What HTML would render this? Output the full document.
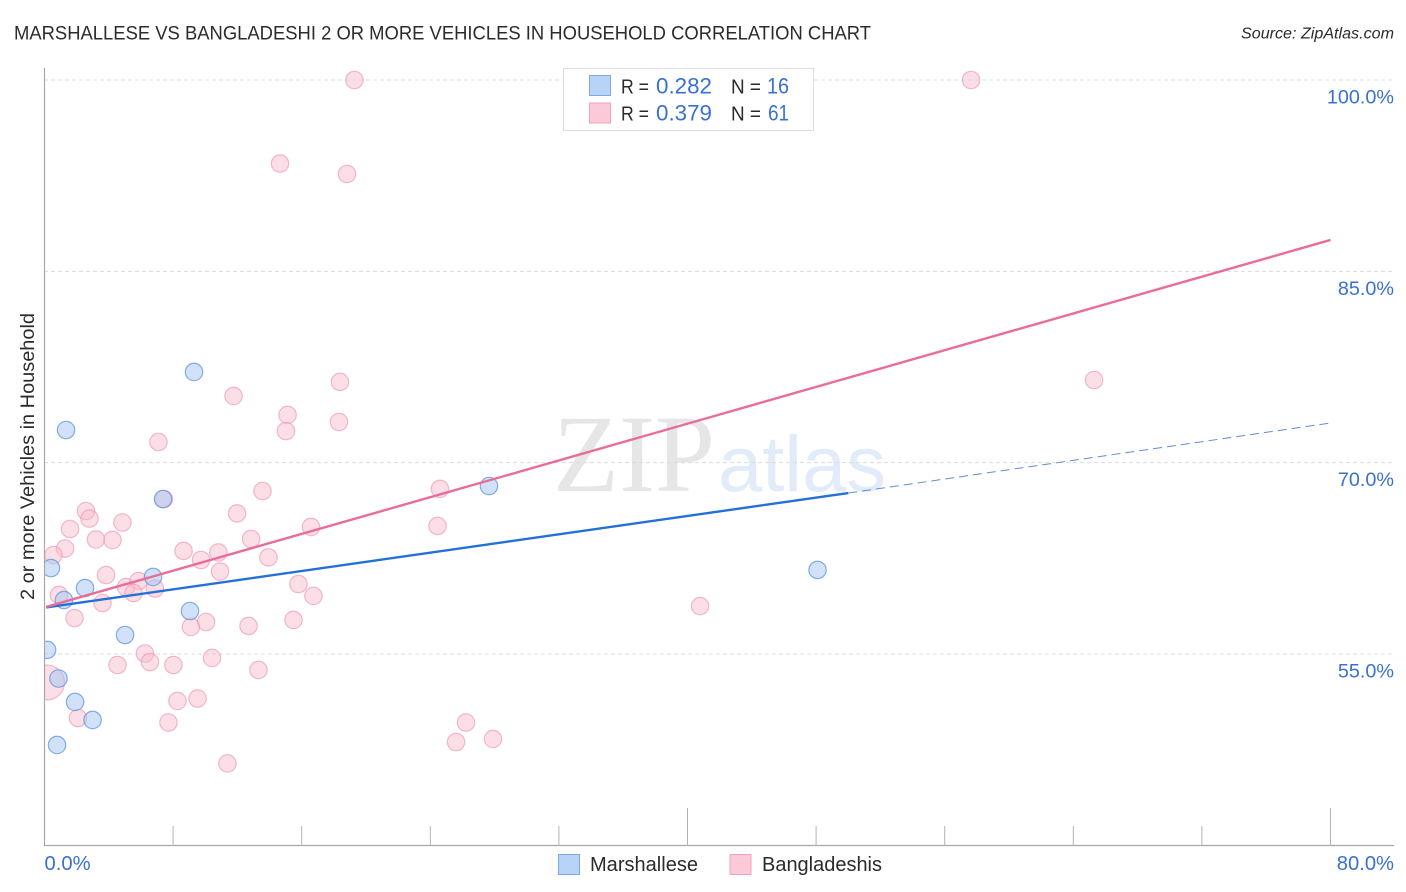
<!DOCTYPE html>
<html lang="en">
<head>
<meta charset="utf-8">
<title>Marshallese vs Bangladeshi 2 or more Vehicles in Household Correlation Chart</title>
<style>
html,body{margin:0;padding:0;background:#fff;}
svg{display:block;font-family:"Liberation Sans",sans-serif;}
</style>
</head>
<body>
<svg id="chart" xmlns="http://www.w3.org/2000/svg" width="1406" height="892" viewBox="0 0 1406 892">
  <rect x="0" y="0" width="1406" height="892" fill="#ffffff"/>
  <text x="14" y="39.5" font-size="19" fill="#2b2b2b" textLength="857" lengthAdjust="spacingAndGlyphs">MARSHALLESE VS BANGLADESHI 2 OR MORE VEHICLES IN HOUSEHOLD CORRELATION CHART</text>
  <text x="1241" y="38.5" font-size="15.5" font-style="italic" fill="#2b2b2b" textLength="153" lengthAdjust="spacingAndGlyphs">Source: ZipAtlas.com</text>
  <text x="553" y="491" font-family="'Liberation Serif',serif" font-size="110" fill="#e6e6e6" textLength="162" lengthAdjust="spacingAndGlyphs">ZIP</text>
  <text x="718" y="491" font-size="79" fill="#e2ebf9" textLength="168" lengthAdjust="spacingAndGlyphs">atlas</text>
  <g id="grid"></g>
  <g id="pink-points"></g>
  <g id="blue-points"></g>
  <g id="trends"></g>
  <g id="axes"></g>
  <text transform="translate(34,600) rotate(-90)" x="0" y="0" font-size="19" fill="#2b2b2b" textLength="287" lengthAdjust="spacingAndGlyphs">2 or more Vehicles in Household</text>
  <g>
    <rect x="563.5" y="68.5" width="250" height="62" fill="#ffffff" fill-opacity="0.9" stroke="#dddddd" stroke-width="1"/>
    <rect x="589.5" y="75.5" width="21" height="20" fill="#b7d4f8" stroke="#7faadf" stroke-width="1"/>
    <rect x="589.5" y="103" width="21" height="20" fill="#fcc9d9" stroke="#f0a3bb" stroke-width="1"/>
    <text x="621" y="93.5" font-size="20" fill="#2b2b2b" textLength="28" lengthAdjust="spacingAndGlyphs">R =</text>
    <text x="656" y="93.5" font-size="22" fill="#3a71d0" textLength="56" lengthAdjust="spacingAndGlyphs">0.282</text>
    <text x="731" y="93.5" font-size="20" fill="#2b2b2b" textLength="30" lengthAdjust="spacingAndGlyphs">N =</text>
    <text x="767" y="93.5" font-size="22" fill="#3a71d0" textLength="22" lengthAdjust="spacingAndGlyphs">16</text>
    <text x="621" y="120.5" font-size="20" fill="#2b2b2b" textLength="28" lengthAdjust="spacingAndGlyphs">R =</text>
    <text x="656" y="120.5" font-size="22" fill="#3a71d0" textLength="56" lengthAdjust="spacingAndGlyphs">0.379</text>
    <text x="731" y="120.5" font-size="20" fill="#2b2b2b" textLength="30" lengthAdjust="spacingAndGlyphs">N =</text>
    <text x="768" y="120.5" font-size="22" fill="#3a71d0" textLength="21" lengthAdjust="spacingAndGlyphs">61</text>
  </g>
  <g>
    <rect x="558.5" y="854.5" width="21" height="20" fill="#b7d4f8" stroke="#7faadf" stroke-width="1"/>
    <text x="590" y="871" font-size="20" fill="#2b2b2b" textLength="108" lengthAdjust="spacingAndGlyphs">Marshallese</text>
    <rect x="730" y="854.5" width="21" height="20" fill="#fcc9d9" stroke="#f0a3bb" stroke-width="1"/>
    <text x="762" y="871" font-size="20" fill="#2b2b2b" textLength="120" lengthAdjust="spacingAndGlyphs">Bangladeshis</text>
  </g>
</svg>
<script>
// Series values: [x %, y %]
const marshalleseX = [0.16,0.40,1.21,2.52,0.87,1.90,2.99,0.78,5.01,6.75,7.37,9.05,9.30,1.34,27.65,48.09];
const marshalleseY = [55.32,61.74,59.23,60.17,53.08,51.24,49.83,47.87,56.49,61.04,67.15,58.37,77.11,72.56,68.17,61.59];
const bangladeshisX = [19.28,57.64,14.65,18.82,65.29,18.38,11.76,15.12,15.02,18.32,7.09,13.56,7.43,24.60,24.45,2.58,2.80,1.59,4.85,3.20,4.23,1.28,0.56,11.98,16.58,8.65,9.74,10.82,12.85,13.93,10.92,3.83,5.07,5.85,5.54,6.87,0.90,3.61,1.87,15.80,16.73,15.49,12.69,10.05,9.11,10.42,6.25,6.56,4.54,8.02,13.31,9.52,8.27,2.08,7.71,11.38,26.22,27.90,25.60,40.78,0.16];
const bangladeshisY = [100,100,93.45,92.63,76.48,76.33,75.23,73.74,72.48,73.19,71.62,67.78,67.15,67.94,65.04,66.21,65.62,64.80,65.31,63.98,63.94,63.27,62.76,66.02,64.96,63.08,62.37,62.96,64.02,62.57,61.47,61.19,60.25,60.72,59.78,60.13,59.63,59.00,57.82,60.49,59.55,57.67,57.20,57.51,57.12,54.69,55.04,54.37,54.14,54.14,53.75,51.51,51.32,49.98,49.63,46.42,49.63,48.34,48.10,58.76,52.77];
// Weight of each point (relative area multiplier; only the large left-edge point differs)
const bangladeshisWeight = [1,1,1,1,1,1,1,1,1,1,1,1,1,1,1,1,1,1,1,1,1,1,1,1,1,1,1,1,1,1,1,1,1,1,1,1,1,1,1,1,1,1,1,1,1,1,1,1,1,1,1,1,1,1,1,1,1,1,1,1,4];
// Trend lines: [start, end] values
const pinkTrendX = [0.1,80];
const pinkTrendY = [58.69,87.46];
const blueTrendX = [0.1,50];
const blueTrendY = [58.65,67.62];
const blueDashX = [50,80];
const blueDashY = [67.62,73.11];
// Axis ticks
const yTickValues = [100,85,70,55];
const yTickLabels = ["100.0%","85.0%","70.0%","55.0%"];
const xTickValues = [0,8,16,24,32,40,48,56,64,72,80];
const xEndValues = [0,80];
const xEndLabels = ["0.0%","80.0%"];

const NS = "http://www.w3.org/2000/svg";
const xScale = v => 44.5 + v * 16.075;
const yScale = v => 80 + (100 - v) * 12.756;
const grid = document.getElementById("grid");
const axes = document.getElementById("axes");
const trends = document.getElementById("trends");

function mk(tag, parent, attrs) {
  const el = document.createElementNS(NS, tag);
  for (const k in attrs) el.setAttribute(k, attrs[k]);
  parent.appendChild(el);
  return el;
}

yTickValues.forEach((v, i) => {
  const line = mk("line", grid, {x1: 44, x2: 1394, y1: yScale(v), y2: yScale(v), stroke: "#dcdcdc", "stroke-width": 1, "stroke-dasharray": "4 3"});
  
  
  const t = mk("text", axes, {x: 1394, y: yScale(v) + 23.5, "text-anchor": "end", "font-size": 19.8, fill: "#3a71d0"});
  
  
  t.textContent = yTickLabels[i];
});

const yAxis = mk("line", axes, {x1: 44.5, x2: 44.5, y1: 68, y2: 846, stroke: "#a8a8a8", "stroke-width": 1.2});


const xAxis = mk("line", axes, {x1: 44, x2: 1394, y1: 845.5, y2: 845.5, stroke: "#a8a8a8", "stroke-width": 1.2});



xTickValues.forEach(v => {
  if (v === 0) return;
  const tall = v % 40 === 0;
  const tick = mk("line", axes, {x1: xScale(v), x2: xScale(v), y1: tall ? 808 : 826, y2: 846, stroke: "#b4b4b4", "stroke-width": 1});
  
  
});

xEndValues.forEach((v, i) => {
  const t = mk("text", axes, {x: i === 0 ? xScale(v) : 1394, y: 870, "text-anchor": i === 0 ? "start" : "end", "font-size": 20.2, fill: "#3a71d0"});
  
  
  t.textContent = xEndLabels[i];
});

const clip = mk("clipPath", document.getElementById("chart"), {id: "plot-clip"});
mk("rect", clip, {x: 44.5, y: 60, width: 1360, height: 786});

const pinkGroup = document.getElementById("pink-points");
bangladeshisX.forEach((x, i) => {
  const c = mk("circle", pinkGroup, {cx: xScale(x), cy: yScale(bangladeshisY[i]), r: 8.7 * Math.sqrt(bangladeshisWeight[i]), fill: "#f9b9cd", "fill-opacity": 0.48, stroke: "#eb9db6", "stroke-opacity": 0.7, "stroke-width": 1.2, "clip-path": "url(#plot-clip)"});
  
  
});

const blueGroup = document.getElementById("blue-points");
marshalleseX.forEach((x, i) => {
  const c = mk("circle", blueGroup, {cx: xScale(x), cy: yScale(marshalleseY[i]), r: 8.7, fill: "#a9c9f3", "fill-opacity": 0.55, stroke: "#5f94d8", "stroke-opacity": 0.75, "stroke-width": 1.2, "clip-path": "url(#plot-clip)"});
  
  
});

const blueSolid = mk("line", trends, {x1: xScale(blueTrendX[0]), y1: yScale(blueTrendY[0]), x2: xScale(blueTrendX[1]), y2: yScale(blueTrendY[1]), stroke: "#2470d8", "stroke-width": 2.4});


const blueDash = mk("line", trends, {x1: xScale(blueDashX[0]), y1: yScale(blueDashY[0]), x2: xScale(blueDashX[1]), y2: yScale(blueDashY[1]), stroke: "#5f8fd6", "stroke-width": 1, "stroke-dasharray": "9 5"});


const pinkLine = mk("line", trends, {x1: xScale(pinkTrendX[0]), y1: yScale(pinkTrendY[0]), x2: xScale(pinkTrendX[1]), y2: yScale(pinkTrendY[1]), stroke: "#e96c9a", "stroke-width": 2.4});


</script>
</body>
</html>
